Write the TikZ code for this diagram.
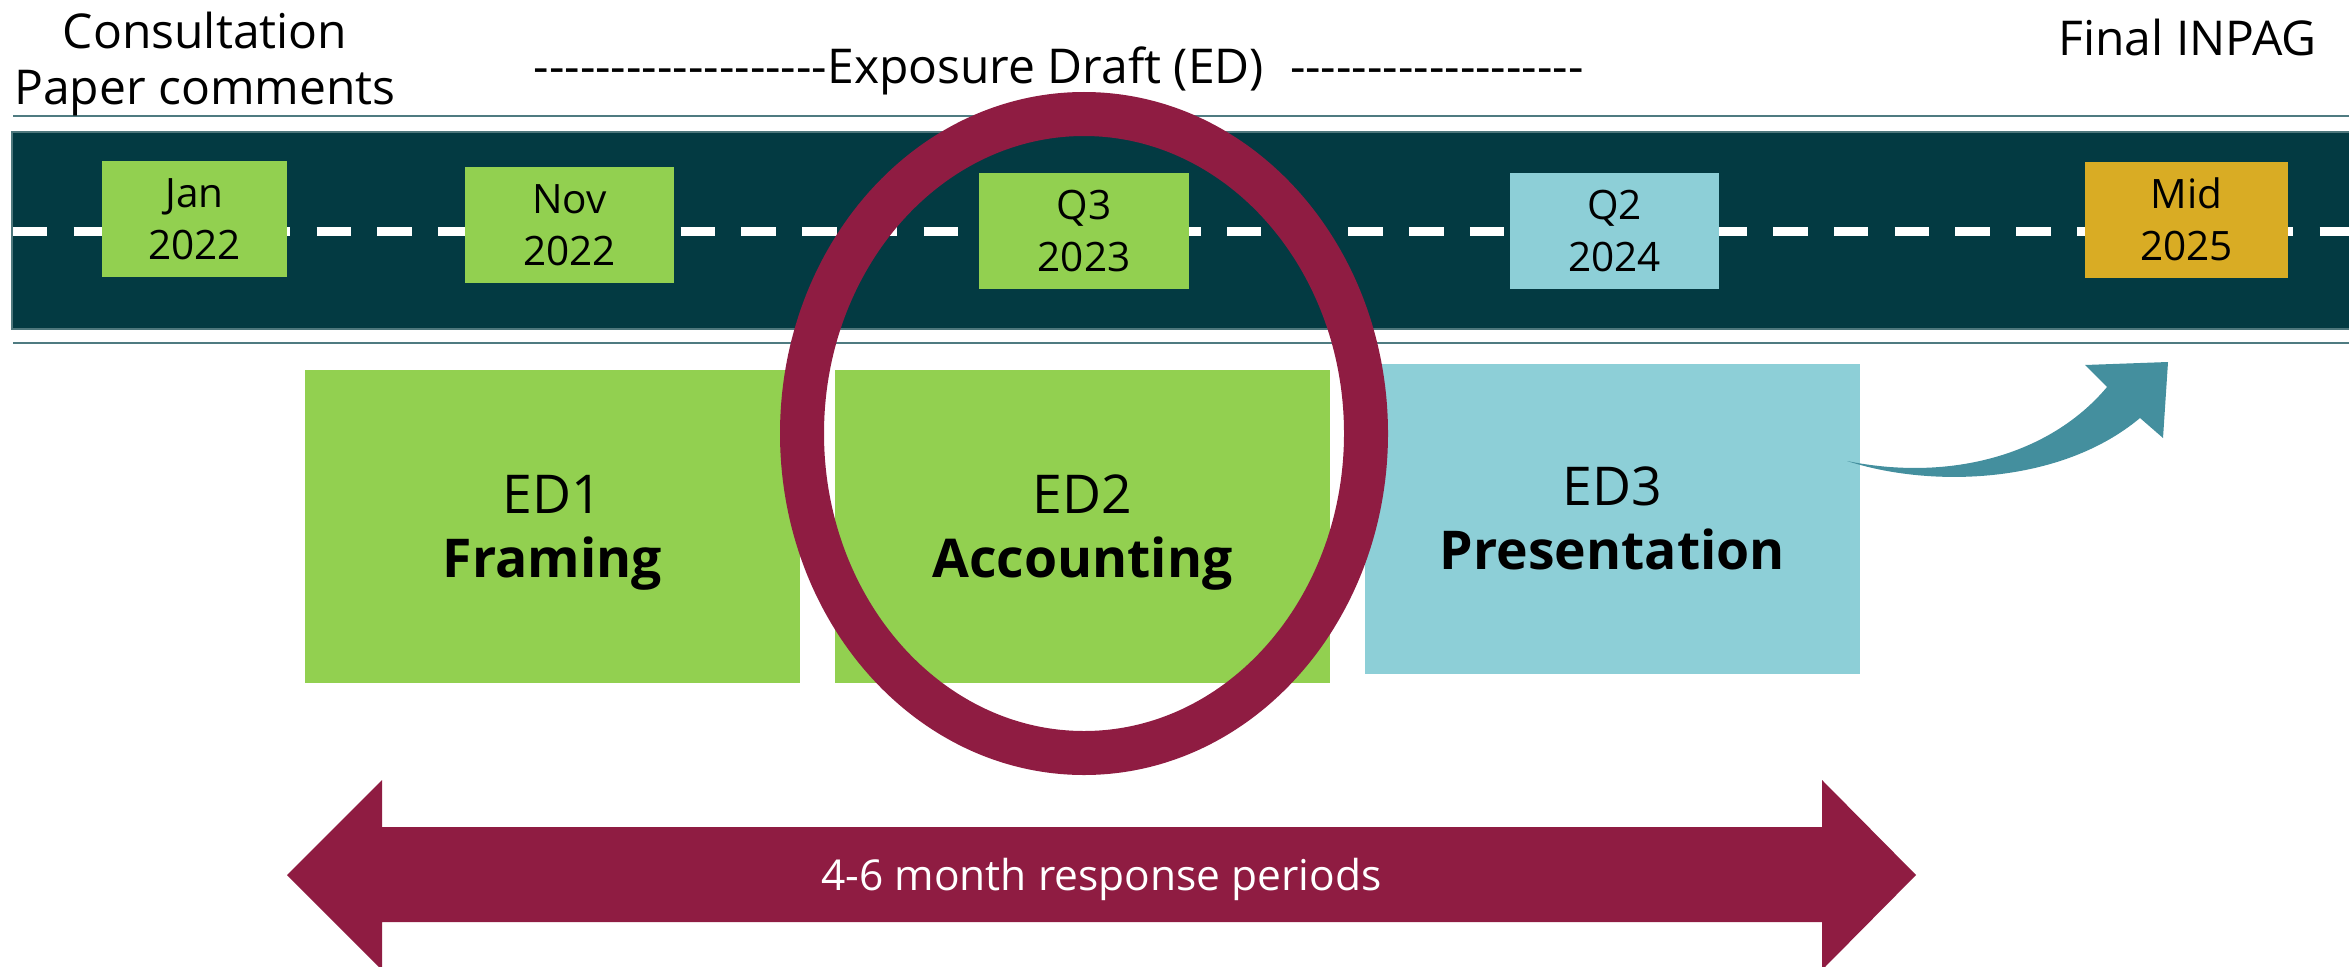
\documentclass[tikz,border=0pt]{standalone}
\usepackage{fontspec}
\setmainfont{Open Sans}
\definecolor{bandcol}{HTML}{033A42}
\definecolor{bandedge}{HTML}{4E777C}
\definecolor{rulecol}{HTML}{4F7B81}
\definecolor{greenbox}{HTML}{92D050}
\definecolor{bluebox}{HTML}{8DCFD7}
\definecolor{goldbox}{HTML}{D9AC24}
\definecolor{maroon}{HTML}{8F1C42}
\definecolor{tealarrow}{HTML}{448F9E}
\newcommand\hiStrut[1]{\rule{0pt}{#1pt}}
\newcommand\loStrut[1]{\rule[-#1pt]{0pt}{#1pt}}
\tikzset{
  datebox/.style={rectangle, inner sep=0pt, minimum height=116pt, align=center,
    font=\fontsize{40.5}{52}\selectfont, text=black},
  edbox/.style={rectangle, inner sep=0pt, minimum width=495pt, align=center,
    font=\fontsize{53.5}{64}\selectfont, text=black},
  headtext/.style={inner sep=0pt, font=\fontsize{48}{56}\selectfont, text=black},
  rulestyle/.style={draw=rulecol, line width=2pt},
  roaddash/.style={draw=white, line width=9pt, dash pattern=on 34.4pt off 26.3pt},
}
\begin{document}
\begin{tikzpicture}[x=1pt,y=-1pt]
\useasboundingbox (0,0) rectangle (2349,966);

% road band
\coordinate (tl) at (13,116);
\coordinate (tr) at (2349,116);
\coordinate (bl) at (13,343);
\coordinate (br) at (2349,343);
\draw[rulestyle] (tl) -- (tr);
\draw[rulestyle] (bl) -- (br);
\filldraw[fill=bandcol, draw=bandedge, line width=1.2pt] (12,132) rectangle (2352,329);
\coordinate (dl) at (13,231.5);
\coordinate (dr) at (2349,231.5);
\draw[roaddash] (dl) -- (dr);

% date boxes
\node[datebox, fill=greenbox, minimum width=185pt] (jan) at (194.5,219) {\hiStrut{36}Jan\\2022\loStrut{8}};
\node[datebox, fill=greenbox, minimum width=209pt] (nov) at (569.5,225) {\hiStrut{36}Nov\\2022\loStrut{8}};
\node[datebox, fill=greenbox, minimum width=210pt] (q3) at (1084,231) {\hiStrut{36}Q3\\2023\loStrut{8}};
\node[datebox, fill=bluebox, minimum width=209pt] (q2) at (1614.5,231) {\hiStrut{36}Q2\\2024\loStrut{8}};
\node[datebox, fill=goldbox, minimum width=203pt] (mid) at (2186.5,220) {\hiStrut{36}Mid\\2025\loStrut{8}};

% ED boxes
\node[edbox, fill=greenbox, minimum height=313pt] (ed1) at (552.5,526.5) {\hiStrut{52}ED1\\\textbf{Framing}\loStrut{15}};
\node[edbox, fill=greenbox, minimum height=313pt] (ed2) at (1082.5,526.5) {\hiStrut{52}ED2\\\textbf{Accounting}\loStrut{15}};
\node[edbox, fill=bluebox, minimum height=310pt] (ed3) at (1612.5,519) {\hiStrut{52}ED3\\\textbf{Presentation}\loStrut{15}};

% highlight ellipse
\coordinate (ov) at (1084,433.5);
\draw[maroon, line width=44pt] (ov) ellipse [x radius=282pt, y radius=319.5pt];

% curved arrow towards final
\coordinate (ct) at (1847,461);
\fill[tealarrow] (ct) .. controls (1930,488) and (2060,485) .. (2140,418)
  -- (2163,438) -- (2168,362) -- (2085,365) -- (2107,387)
  .. controls (2050,455) and (1950,482) .. (ct) -- cycle;

% response period double arrow
\coordinate (lt) at (287,875);
\coordinate (rt) at (1916,875);
\fill[maroon] (lt) -- (382,780) -- (382,827) -- (1822,827) -- (1822,780) -- (rt)
  -- (1822,970) -- (1822,922) -- (382,922) -- (382,970) -- cycle;
\node[inner sep=0pt, anchor=base, text=white, font=\fontsize{42.5}{50}\selectfont] (resp) at (1101.5,890) {4-6 month response periods};

% headings
\node[headtext, align=center] (consult) at (205,63) {\hiStrut{40}Consultation\\Paper comments\loStrut{14}};
\node[headtext, anchor=base] (expo) at (1058.5,83) {-{}-{}-{}-{}-{}-{}-{}-{}-{}-{}-{}-{}-{}-{}-{}-{}-{}-{}-{}Exposure Draft (ED)\hspace{26pt}-{}-{}-{}-{}-{}-{}-{}-{}-{}-{}-{}-{}-{}-{}-{}-{}-{}-{}-{}};
\node[headtext, anchor=base] (final) at (2187.5,56) {Final INPAG};
\end{tikzpicture}
\end{document}
